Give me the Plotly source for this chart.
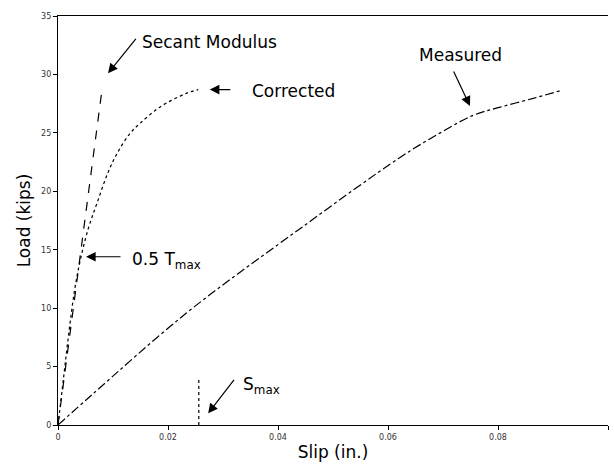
import plotly.graph_objects as go

# Data
secant_x = [0.0, 0.008]
secant_y = [0.0, 28.7]

corrected_x = [0.0, 0.001, 0.002, 0.003, 0.004, 0.0055, 0.0071, 0.009, 0.0107, 0.013, 0.0149, 0.0185, 0.0234, 0.0255]
corrected_y = [0.0, 4.0, 8.0, 11.5, 14.0, 16.8, 19.0, 21.5, 23.2, 24.9, 25.8, 27.2, 28.4, 28.7]

measured_x = [0.0, 0.0062, 0.0234, 0.044, 0.0622, 0.0695, 0.0755, 0.0804, 0.0864, 0.0913]
measured_y = [0.0, 2.6, 9.6, 16.8, 22.9, 25.0, 26.5, 27.2, 27.95, 28.6]

smax_x = [0.0256, 0.0256]
smax_y = [0.0, 4.1]

x_ticks = [0, 0.02, 0.04, 0.06, 0.08, 0.1]
x_tick_labels = ["0", "0.02", "0.04", "0.06", "0.08", "0.1"]
y_ticks = [0, 5, 10, 15, 20, 25, 30, 35]

fig = go.Figure()
fig.add_trace(go.Scatter(x=secant_x, y=secant_y, mode="lines",
                         line=dict(color="black", width=1.2, dash="dash"), showlegend=False))
fig.add_trace(go.Scatter(x=corrected_x, y=corrected_y, mode="lines", line_shape="spline",
                         line=dict(color="black", width=1.2, dash="dot"), showlegend=False))
fig.add_trace(go.Scatter(x=measured_x, y=measured_y, mode="lines", line_shape="spline",
                         line=dict(color="black", width=1.2, dash="dashdot"), showlegend=False))
fig.add_trace(go.Scatter(x=smax_x, y=smax_y, mode="lines",
                         line=dict(color="black", width=1.2, dash="dot"), showlegend=False))

FONT = "DejaVu Sans, Liberation Sans, sans-serif"
font_lbl = dict(family=FONT, size=17, color="black")
arrow_common = dict(showarrow=True, arrowhead=2, arrowsize=1.6, arrowwidth=1.2,
                    arrowcolor="black", text="", xref="x", yref="y", axref="pixel", ayref="pixel")

# arrows
fig.add_annotation(x=0.0091, y=30.1, ax=29, ay=-36, **arrow_common)
fig.add_annotation(x=0.0276, y=28.7, ax=22, ay=0, **arrow_common)
fig.add_annotation(x=0.0749, y=27.3, ax=-17, ay=-36, **arrow_common)
fig.add_annotation(x=0.0051, y=14.4, ax=36, ay=0, **arrow_common)
fig.add_annotation(x=0.0273, y=1.0, ax=27, ay=-35, **arrow_common)

# labels
fig.add_annotation(x=0.0149, y=32.8, text="Secant Modulus", showarrow=False, xanchor="left", font=font_lbl)
fig.add_annotation(x=0.0349, y=28.6, text="Corrected", showarrow=False, xanchor="left", font=font_lbl)
fig.add_annotation(x=0.0731, y=31.7, text="Measured", showarrow=False, xanchor="center", font=font_lbl)
fig.add_annotation(x=0.0131, y=14.1, text="0.5 T<sub>max</sub>", showarrow=False, xanchor="left", font=font_lbl)
fig.add_annotation(x=0.0333, y=3.4, text="S<sub>max</sub>", showarrow=False, xanchor="left", font=font_lbl)

fig.update_layout(
    width=614, height=468,
    margin=dict(l=58, r=6, t=16, b=43),
    paper_bgcolor="white", plot_bgcolor="white",
    font=dict(family=FONT, color="black"),
)
fig.update_xaxes(range=[0, 0.1], tickvals=x_ticks, ticktext=x_tick_labels,
                 showline=True, linecolor="black", linewidth=1.2, mirror=True,
                 ticks="outside", ticklen=4, tickcolor="black",
                 showgrid=False, zeroline=False,
                 tickfont=dict(size=8, color="#333"),
                 title=dict(text="Slip (in.)", font=dict(size=17), standoff=5))
fig.update_yaxes(range=[0, 35], tickvals=y_ticks,
                 showline=True, linecolor="black", linewidth=1.2,
                 ticks="outside", ticklen=4, tickcolor="black",
                 showgrid=False, zeroline=False,
                 tickfont=dict(size=8, color="#333"),
                 title=dict(text="Load (kips)", font=dict(size=17), standoff=6))

fig.write_html("out.html")
